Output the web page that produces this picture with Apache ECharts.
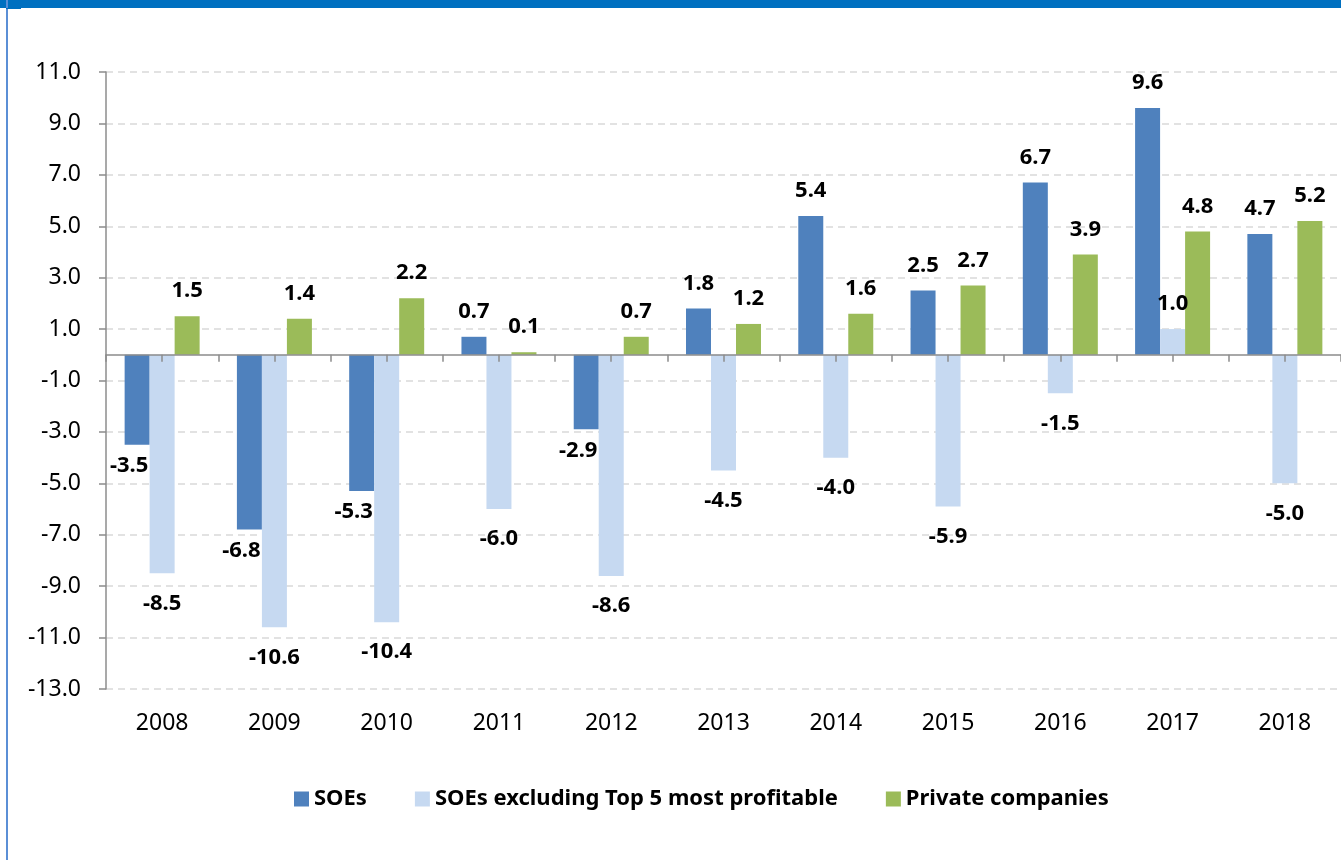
<!DOCTYPE html>
<html>
<head>
<meta charset="utf-8">
<title>SOEs vs private companies</title>
<script src="https://cdn.jsdelivr.net/npm/echarts@6/dist/echarts.min.js"></script>
<style>
  html, body { margin: 0; padding: 0; background: #fff; }
  #chart { width: 1341px; height: 860px; }
</style>
</head>
<body>
<div id="chart"></div>
<script>
const years = ['2008', '2009', '2010', '2011', '2012', '2013', '2014', '2015', '2016', '2017', '2018']
const soes = [-3.5, -6.8, -5.3, 0.7, -2.9, 1.8, 5.4, 2.5, 6.7, 9.6, 4.7]
const soesExTop5 = [-8.5, -10.6, -10.4, -6.0, -8.6, -4.5, -4.0, -5.9, -1.5, 1.0, -5.0]
const privateCos = [1.5, 1.4, 2.2, 0.1, 0.7, 1.2, 1.6, 2.7, 3.9, 4.8, 5.2]
const seriesNames = ['SOEs', 'SOEs excluding Top 5 most profitable', 'Private companies']

const FONT = '"Noto Sans", "Open Sans", sans-serif'

const chart = echarts.init(document.getElementById('chart'))

// label above positive bars, below negative ones
const withLabels = (values, negDistance, negOffset) => values.map(v => ({
  value: v,
  label: v < 0
    ? { position: 'bottom', distance: negDistance, offset: [negOffset, 0] }
    : { position: 'top', distance: 14 }
}))

const barSeries = (name, values, color, negDistance, negOffset) => ({
  name,
  type: 'bar',
  xAxisIndex: 0,
  barWidth: 25,
  barGap: '0%',
  itemStyle: { color },
  label: {
    show: true,
    color: '#000',
    fontFamily: FONT,
    fontSize: 22,
    fontWeight: 'bold',
    formatter: p => p.value.toFixed(1)
  },
  data: withLabels(values, negDistance, negOffset)
})

chart.setOption({
  animation: false,
  backgroundColor: '#fff',
  graphic: [
    { type: 'rect', shape: { x: 0, y: 0, width: 1341, height: 8 }, style: { fill: '#0070C0' } },
    { type: 'rect', shape: { x: 6, y: 0, width: 2, height: 860 }, style: { fill: '#5B8FD6' } },
    { type: 'rect', shape: { x: 6, y: 8, width: 15, height: 1 }, style: { fill: '#0070C0' } }
  ],
  grid: {
    left: 106,
    top: 72,
    width: 1248,
    height: 617
  },
  legend: {
    left: 289,
    top: 783,
    itemWidth: 15,
    itemHeight: 15,
    itemGap: 48,
    icon: 'rect',
    data: seriesNames,
    textStyle: { color: '#000', fontFamily: FONT, fontSize: 22, fontWeight: 'bold' }
  },
  xAxis: [
    {
      type: 'category',
      data: years,
      position: 'bottom',
      axisLine: { show: false, onZero: false },
      axisTick: { show: false },
      axisLabel: { color: '#000', fontFamily: FONT, fontSize: 23, margin: 23 }
    },
    {
      // zero line with ticks at every half category
      type: 'category',
      data: Array.from({ length: years.length * 2 }, () => ''),
      position: 'bottom',
      z: 10,
      axisLine: { show: true, onZero: true, onZeroAxisIndex: 0, lineStyle: { color: '#8C8C8C', width: 1.5 } },
      axisTick: { show: true, length: 7, lineStyle: { color: '#8C8C8C', width: 1.5 } },
      axisLabel: { show: false }
    }
  ],
  yAxis: {
    type: 'value',
    min: -13,
    max: 11,
    interval: 2,
    axisLine: { show: true, lineStyle: { color: '#8C8C8C', width: 1.5 } },
    axisTick: { show: true, length: 7, lineStyle: { color: '#8C8C8C', width: 1.5 } },
    axisLabel: {
      color: '#000',
      fontFamily: FONT,
      fontSize: 23,
      margin: 25,
      formatter: v => v.toFixed(1)
    },
    splitLine: { lineStyle: { color: '#D9D9D9', width: 1.5, type: [7, 5] } }
  },
  series: [
    barSeries(seriesNames[0], soes, '#4F81BD', 10, -8),
    barSeries(seriesNames[1], soesExTop5, '#C6D9F1', 19, 0),
    barSeries(seriesNames[2], privateCos, '#9BBB59', 19, 0)
  ]
})
</script>
</body>
</html>
